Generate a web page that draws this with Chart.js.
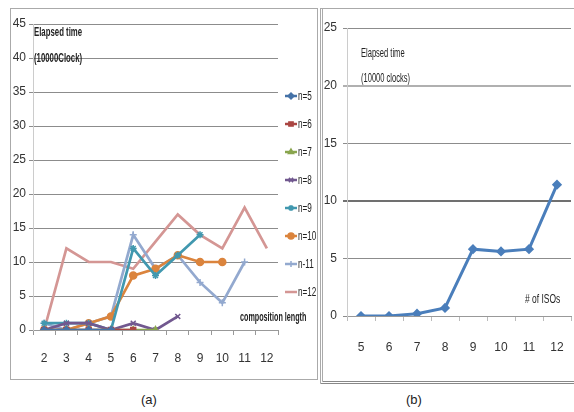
<!DOCTYPE html>
<html>
<head>
<meta charset="utf-8">
<script src="https://cdn.jsdelivr.net/npm/chart.js@4.4.0/dist/chart.umd.min.js"></script>
<style>
  body { margin: 0; background: #fff; width: 574px; height: 412px; overflow: hidden; position: relative;
         font-family: 'Liberation Sans', sans-serif; color: #222; }
  #panelA { position: absolute; left: 10px; top: 8px; width: 308px; height: 372px; border: 1px solid #aaa; box-sizing: border-box; }
  #panelB { position: absolute; left: 320px; top: 8px; width: 254px; height: 376px; border-left: 3px double #aaa;
            border-bottom: 3px double #888; border-top: 1px solid #aaa; box-sizing: border-box; }
  .wrap { position: absolute; }
  .note { position: absolute; font-size: 12px; white-space: nowrap; transform: scaleX(0.6); transform-origin: 0 0; }
  .cap { position: absolute; font-size: 13px; }
</style>
</head>
<body>
<div id="panelA"></div>
<div id="panelB"></div>
<div class="wrap" style="left:10px;top:8px;width:308px;height:372px"><canvas id="chartA"></canvas></div>
<div class="wrap" style="left:322px;top:8px;width:256px;height:374px"><canvas id="chartB"></canvas></div>

<div class="note" style="left:34px;top:24px;font-weight:bold;font-size:13px">Elapsed time</div>
<div class="note" style="left:34px;top:50px;font-weight:bold;font-size:13px">(10000Clock)</div>
<div class="note" style="left:240px;top:310px;font-weight:bold">composition length</div>
<div class="note" style="left:361px;top:45px;font-size:13px;transform:scaleX(0.58)">Elapsed time</div>
<div class="note" style="left:361px;top:70px;font-size:13px;transform:scaleX(0.58)">(10000 clocks)</div>
<div class="note" style="left:525px;top:291px;font-size:13px;transform:scaleX(0.65)"># of ISOs</div>
<div class="cap" style="left:141px;top:392px">(a)</div>
<div class="cap" style="left:406px;top:392px">(b)</div>

<script>
// panel (a): composition length vs elapsed time, one line per n
const lengths = ['2', '3', '4', '5', '6', '7', '8', '9', '10', '11', '12'];
const n5 = [0, 0, 0, 0];
const n6 = [0, 0, 0, 0, 0];
const n7 = [0, 0, 0, 0, 0, 0];
const n8 = [0, 1, 1, 0, 1, 0, 2];
const n9 = [1, 1, 1, 0, 12, 8, 11, 14];
const n10 = [0, 0, 1, 2, 8, 9, 11, 10, 10];
const n11 = [1, 0, 1, 2, 14, 9, 11, 7, 4, 10];
const n12 = [0, 12, 10, 10, 9, 13, 17, 14, 12, 18, 12];

// panel (b): number of ISOs vs elapsed time
const isoCounts = ['5', '6', '7', '8', '9', '10', '11', '12'];
const isoTimes = [0, 0, 0.2, 0.7, 5.8, 5.6, 5.8, 11.4];

Chart.defaults.font.family = "'Liberation Sans', sans-serif";
Chart.defaults.color = '#333';

function series(label, data, color, style) {
  return {
    label, data,
    borderColor: color,
    backgroundColor: color,
    borderWidth: 2.7,
    pointStyle: style,
    pointRadius: style === false ? 0 : 3.5,
    pointBorderWidth: 1.5,
    tension: 0
  };
}

// keep the category axis from reserving room for its edge labels
function noSidePad(scale, h) {
  scale.height = h;
  scale.paddingLeft = 0;
  scale.paddingRight = 0;
}

// excel-like legend: short line + marker, narrow text, 28px apart
const sideLegend = {
  id: 'sideLegend',
  afterDraw(chart) {
    const ctx = chart.ctx;
    const x0 = chart.chartArea.right + 7;
    chart.data.datasets.forEach((ds, i) => {
      const y = 88 + i * 28;
      ctx.save();
      ctx.strokeStyle = ds.borderColor;
      ctx.fillStyle = ds.backgroundColor;
      ctx.lineWidth = 2.5;
      ctx.beginPath();
      ctx.moveTo(x0, y);
      ctx.lineTo(x0 + 12, y);
      ctx.stroke();
      if (ds.pointStyle && Chart.helpers && Chart.helpers.drawPoint) {
        ctx.lineWidth = 1.5;
        Chart.helpers.drawPoint(ctx, { pointStyle: ds.pointStyle, radius: 3, borderWidth: 1.5, rotation: 0 }, x0 + 6, y);
      }
      ctx.fillStyle = '#222';
      ctx.font = "12px 'Liberation Sans'";
      ctx.textBaseline = 'middle';
      ctx.translate(x0 + 13, y + 1);
      ctx.scale(0.68, 1);
      ctx.fillText(ds.label, 0, 0);
      ctx.restore();
    });
  }
};

new Chart(document.getElementById('chartA'), {
  type: 'line',
  data: {
    labels: lengths,
    datasets: [
      series('n=5', n5, '#4572A7', 'rectRot'),
      series('n=6', n6, '#AA4643', 'rect'),
      series('n=7', n7, '#89A54E', 'triangle'),
      series('n=8', n8, '#71588F', 'crossRot'),
      series('n=9', n9, '#4198AF', 'star'),
      series('n=10', n10, '#DB843D', 'circle'),
      series('n-11', n11, '#93A9CF', 'cross'),
      series('n=12', n12, '#D49694', false)
    ]
  },
  options: {
    responsive: true,
    maintainAspectRatio: false,
    animation: false,
    layout: { padding: { top: 16, right: 40, left: 0, bottom: 0 } },
    plugins: {
      tooltip: { enabled: false },
      legend: { display: false }
    },
    scales: {
      x: {
        offset: true,
        grid: { offset: true, drawOnChartArea: false, drawTicks: true, tickLength: 5, color: '#999' },
        border: { color: '#999' },
        ticks: { padding: 16, font: { size: 12 }, maxRotation: 0, minRotation: 0, autoSkip: false },
        afterFit(scale) { noSidePad(scale, 50); }
      },
      y: {
        min: 0, max: 45,
        ticks: { stepSize: 5, font: { size: 12 }, padding: 3 },
        grid: { color: '#8c8c8c', tickLength: 4 },
        border: { color: '#ccc' },
        afterFit(scale) { scale.width = 23; }
      }
    }
  },
  plugins: [sideLegend]
});

new Chart(document.getElementById('chartB'), {
  type: 'line',
  data: {
    labels: isoCounts,
    datasets: [{
      label: 'Elapsed time',
      data: isoTimes,
      borderColor: '#4A7EBB',
      backgroundColor: '#4A7EBB',
      borderWidth: 3,
      pointStyle: 'rectRot',
      pointRadius: 3,
      tension: 0
    }]
  },
  options: {
    responsive: true,
    maintainAspectRatio: false,
    animation: false,
    layout: { padding: { top: 20, right: 0, left: 0, bottom: 0 } },
    plugins: { legend: { display: false }, tooltip: { enabled: false } },
    scales: {
      x: {
        offset: true,
        grid: { offset: true, drawOnChartArea: false, drawTicks: true, tickLength: 5, color: '#bbb' },
        border: { color: '#999' },
        ticks: { padding: 19, font: { size: 12 }, maxRotation: 0, minRotation: 0, autoSkip: false },
        afterFit(scale) { noSidePad(scale, 66); }
      },
      y: {
        min: 0, max: 25,
        ticks: { stepSize: 5, font: { size: 12 }, padding: 6 },
        grid: {
          color: ctx => ctx.tick && ctx.tick.value === 10 ? '#707070' : (ctx.tick && ctx.tick.value === 20 ? '#b0b0b0' : '#8c8c8c'),
          lineWidth: ctx => ctx.tick && (ctx.tick.value === 10 || ctx.tick.value === 20) ? 2 : 1,
          tickLength: 4
        },
        border: { color: '#ccc' },
        afterFit(scale) { scale.width = 25; }
      }
    }
  }
});
</script>
</body>
</html>
